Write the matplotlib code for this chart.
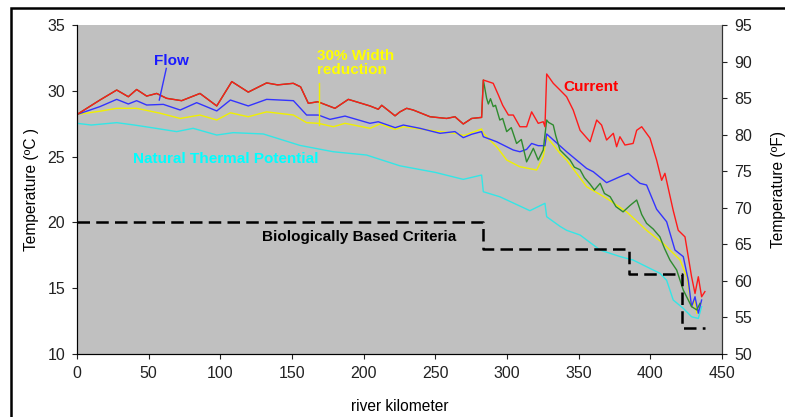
import matplotlib.pyplot as plt
import matplotlib as mpl
from matplotlib.patches import Rectangle

mpl.rcParams['font.family'] = ['Liberation Sans', 'DejaVu Sans']

# === data (river km, temperature in C) ===
red_km = [0, 8, 16, 27.7, 35.8, 41.6, 48.6, 55.6, 62.5, 73, 85.8, 97.5, 108, 119.5, 132.3, 140, 150.9,
          156, 161.4, 168, 180, 189.3, 204.4, 210.2, 212.6, 221.9, 225.3, 230, 234.6, 246.3, 257.9,
          263.7, 269.5, 275.4, 282.3, 283.5, 290.4, 294, 297, 301, 304.4, 309, 313.7, 317.2, 321.8,
          325.3, 326.5, 327.7, 332.3, 337, 341.6, 346.2, 351, 358, 362.6, 366, 369.5, 374.2, 376.5,
          378.8, 382.3, 388, 390.5, 394, 399.8, 404.4, 407.9, 410.2, 416, 419.5, 424.2, 428.8, 431.2,
          433.5, 435.8, 438.1]
red_t = [28.2, 28.75, 29.3, 30.06, 29.55, 30.1, 29.6, 29.8, 29.43, 29.25, 29.8, 28.85, 30.7, 29.9, 30.6,
         30.45, 30.57, 30.3, 29.05, 29.17, 28.67, 29.35, 28.85, 28.6, 28.9, 28.1, 28.4, 28.67, 28.54,
         28.03, 27.9, 28.03, 27.48, 27.9, 27.98, 30.82, 30.57, 29.68, 28.9, 28.16, 28.16, 27.27, 27.27,
         28.4, 27.53, 27.65, 27.27, 31.28, 30.57, 30.06, 29.55, 28.54, 27.0, 26.13, 27.78, 27.4, 26.26,
         26.77, 25.75, 26.51, 25.88, 26.0, 27.0, 27.27, 26.4, 24.74, 23.2, 23.73, 20.9, 19.4, 18.9, 15.87,
         14.6, 15.87, 14.35, 14.74]

green_km = [285.8, 287, 288.5, 290.4, 292, 295, 297, 299.8, 303, 306.7, 310, 313.7, 316, 318.4, 321.8,
            325.3, 327.7, 329, 332.3, 334, 337, 341.6, 344, 347, 351, 354, 358, 361, 365, 368, 372,
            376, 381, 386, 390.5, 394, 397.4, 402, 406.7, 410, 413.7, 418.4, 423, 428.8, 432.4, 434.7]
green_t = [29.43, 29.0, 29.4, 28.8, 28.9, 27.78, 27.9, 26.9, 27.2, 26.0, 26.3, 24.6, 25.1, 25.63, 24.74,
           25.5, 27.78, 27.6, 27.4, 26.6, 25.5, 25.0, 24.74, 24.2, 24.0, 23.4, 22.9, 22.46, 22.97, 22.2,
           21.95, 21.2, 20.8, 21.3, 21.7, 20.6, 19.93, 19.5, 18.9, 18.0, 17.14, 16.38, 14.86, 13.6, 13.35,
           13.85]

blue_km = [0, 16, 27.7, 35.8, 41.6, 48.6, 60.2, 72, 83.5, 97.5, 107, 119.5, 132.3, 151, 160.2, 168.4,
           176.5, 187, 204.4, 210.2, 222, 227.7, 239.3, 253.3, 263.7, 269.5, 275.4, 282.3, 283.5, 292.8,
           304.4, 309, 313.7, 317.2, 321.8, 326.5, 327.7, 341.6, 355.6, 360.2, 369.5, 378.8, 384.6,
           392.8, 397.4, 404.4, 411.4, 417.2, 423, 426.5, 428.8, 431.2, 433.5, 435.8]
blue_t = [28.2, 28.8, 29.35, 29.0, 29.25, 28.92, 28.97, 28.54, 29.1, 28.47, 29.3, 28.85, 29.35, 29.25,
          28.16, 28.16, 27.83, 28.08, 27.53, 27.65, 27.2, 27.4, 27.15, 26.77, 26.9, 26.44, 26.7, 26.9,
          26.51, 26.13, 25.5, 25.37, 25.55, 26.0, 25.83, 25.83, 26.72, 25.37, 24.1, 23.85, 23.02, 23.47,
          23.73, 22.97, 22.84, 21.0, 20.05, 17.9, 17.4, 15.6, 13.6, 14.35, 13.1, 14.1]

yel_km = [0, 16, 27.7, 41.6, 57.9, 72, 85.8, 97.5, 107, 119.5, 132.3, 151, 160.2, 168.4, 178.8, 187,
          204.4, 211.4, 222, 227.7, 246.3, 265, 270, 282.3, 283.5, 292.8, 299.8, 309, 320.7, 325.3,
          327.7, 337, 341.6, 355.6, 369.5, 383.5, 397.4, 409, 420.7, 425.4, 428.8, 431.2, 432.4]
yel_t = [28.2, 28.45, 28.67, 28.67, 28.3, 27.9, 28.16, 27.78, 28.33, 28.03, 28.4, 28.16, 27.58, 27.53,
         27.27, 27.53, 27.15, 27.48, 27.07, 27.27, 27.0, 26.75, 26.6, 27.1, 26.77, 25.75, 24.74, 24.23,
         23.98, 25.0, 26.51, 25.25, 24.74, 22.71, 21.83, 20.8, 19.4, 18.4, 17.16, 15.87, 13.6, 14.1, 13.1]

cyan_km = [0, 10, 27.7, 40, 55, 69.5, 81, 97.5, 109, 130, 155.6, 178.8, 202, 225.3, 250, 269.5, 282.3,
           283.5, 295, 316, 326.5, 327.7, 337, 341.6, 351, 365, 379, 388, 406.7, 411.4, 416, 423,
           428.8, 433.5, 435.8]
cyan_t = [27.53, 27.4, 27.58, 27.4, 27.15, 26.9, 27.15, 26.64, 26.82, 26.72, 25.85, 25.37, 25.12, 24.3,
          23.8, 23.27, 23.6, 22.33, 21.95, 20.89, 21.45, 20.43, 19.7, 19.4, 19.04, 17.9, 17.4, 17.14,
          16.13, 15.6, 14.1, 13.47, 12.83, 12.7, 13.6]

crit_km = [0, 283, 283, 385, 385, 422, 422, 438]
crit_t = [20, 20, 18.0, 18.0, 16.1, 16.1, 12.0, 12.0]

# green shares the red path up to km 283
n_shared = len([k for k in red_km if k <= 283.5])
g_km = red_km[:n_shared] + green_km
g_t = red_t[:n_shared] + green_t

# === plot ===
fig = plt.figure(figsize=(7.85, 4.17), dpi=100)
ax = fig.add_axes([0.0981, 0.1511, 0.8216, 0.7889])
ax.set_facecolor('#c0c0c0')

ax.plot(cyan_km, cyan_t, color='#33e6e6', lw=1.0)
ax.plot(yel_km, yel_t, color='#f0f000', lw=1.0)
ax.plot(blue_km, blue_t, color='#3333ff', lw=1.0)
ax.plot(g_km, g_t, color='#2e8b2e', lw=1.0)
ax.plot(red_km, red_t, color='#ff1a1a', lw=1.0)
ax.plot(crit_km, crit_t, color='black', lw=1.8, dashes=(5, 2.5))

ax.set_xlim(0, 450)
ax.set_ylim(10, 35)
ax.set_xticks(range(0, 451, 50))
ax.set_yticks(range(10, 36, 5))
ax.tick_params(direction='out', length=3.6, pad=5, labelsize=11.5, colors='#222222')
ax.spines['top'].set_visible(False)
for s in ('left', 'bottom', 'right'):
    ax.spines[s].set_color('#333333')
    ax.spines[s].set_linewidth(0.8)
ax.set_xlabel('river kilometer', fontsize=11.2, labelpad=13)
ax.set_ylabel('Temperature (ºC )', fontsize=11.2, labelpad=6)

ax2 = ax.twinx()
ax2.set_ylim(50, 95)
ax2.set_yticks(range(50, 96, 5))
ax2.tick_params(direction='out', length=3.6, pad=5, labelsize=11.5, colors='#222222')
ax2.spines['top'].set_visible(False)
ax2.spines['right'].set_color('#333333')
ax2.spines['right'].set_linewidth(0.8)
ax2.set_ylabel('Temperature (ºF)', fontsize=11.2, labelpad=14)

# annotations
ax.text(66, 32.25, 'Flow', color='#1a1aff', fontsize=11, fontweight='bold', ha='center', va='center')
ax.plot([62.3, 57.4], [31.7, 29.3], color='#3333ff', lw=1.0)
ax.text(167.5, 32.1, '30% Width\nreduction', color='#ffff00', fontsize=11, fontweight='bold',
        ha='left', va='center', linespacing=0.95)
ax.plot([168.8, 168.8], [30.6, 27.4], color='#f0f000', lw=1.0)
ax.text(358.5, 30.3, 'Current', color='#ff0000', fontsize=11, fontweight='bold', ha='center', va='center')
ax.text(39, 24.8, 'Natural Thermal Potential', color='#00ffff', fontsize=11, fontweight='bold',
        ha='left', va='center')
ax.text(129, 18.9, 'Biologically Based Criteria', color='black', fontsize=11, fontweight='bold',
        ha='left', va='center')

# outer frame
fig.patches.append(Rectangle((11 / 785, -0.05), 1.1, 1.05 - 8 / 417, transform=fig.transFigure,
                             fill=False, edgecolor='black', lw=1.8))

fig.savefig('out.png', dpi=100)
